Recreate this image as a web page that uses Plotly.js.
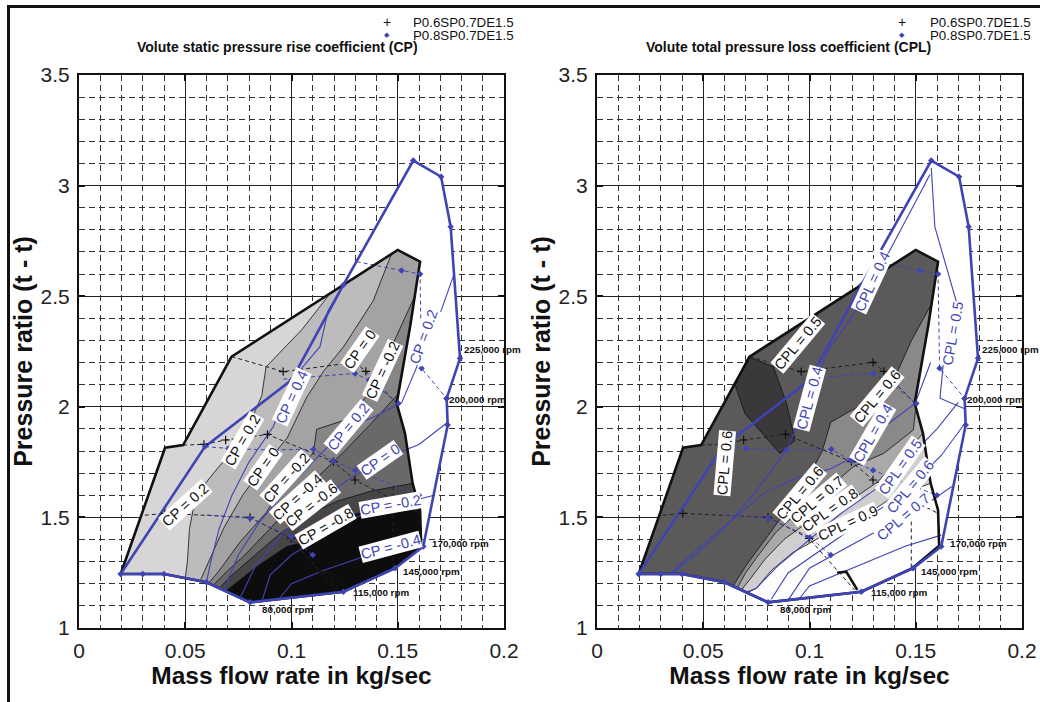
<!DOCTYPE html>
<html><head><meta charset="utf-8">
<script src="https://cdn.plot.ly/plotly-3.0.1.min.js"></script>
<style>
body{margin:0;background:#fff;}
#chart{width:1040px;height:702px;}
#frame{position:absolute;left:7px;top:5px;width:1040px;height:700px;border-left:3px solid #111;border-top:3px solid #111;pointer-events:none;}
</style></head>
<body><div id="chart"></div><div id="frame"></div>
<script>
// ---------------- DATA ----------------
const xRange = [0, 0.2];
const yRange = [1, 3.5];
const seriesNames = ['P0.6SP0.7DE1.5', 'P0.8SP0.7DE1.5'];
const panelTitles = ['Volute static pressure rise coefficient (CP)', 'Volute total pressure loss coefficient (CPL)'];

// operating-map envelopes [mass flow, pressure ratio]
const envP06 = [[0.0196,1.244],[0.030,1.244],[0.040,1.244],[0.060,1.207],[0.0805,1.116],[0.1244,1.164],[0.1487,1.272],[0.161,1.372],[0.1605,1.533],[0.157,1.654],[0.1534,1.880],[0.1495,2.016],[0.1526,2.181],[0.1558,2.362],[0.1605,2.656],[0.150,2.709],[0.0718,2.227],[0.049,1.827],[0.0405,1.815]];
const envP08 = [[0.0196,1.244],[0.030,1.244],[0.040,1.244],[0.060,1.207],[0.0805,1.116],[0.1244,1.164],[0.1487,1.270],[0.162,1.368],[0.1735,1.918],[0.173,2.038],[0.1793,2.219],[0.1749,2.814],[0.1704,3.040],[0.1573,3.113],[0.1244,2.551],[0.100,2.121],[0.0593,1.82]];
const notchP06 = [[0.113,1.250],[0.1173,1.255],[0.1225,1.172]];

// CP contour lines, P0.6 (filled), levels 0.2, 0, -0.2, -0.4, -0.6, -0.8
const cpP06_02  = [[0.118,2.51],[0.105,2.35],[0.088,2.18],[0.086,2.05],[0.077,1.85],[0.065,1.72],[0.055,1.60],[0.052,1.45],[0.051,1.30],[0.050,1.226]];
const cpP06_0   = [[0.147,2.69],[0.1385,2.48],[0.1244,2.27],[0.115,2.16],[0.107,2.04],[0.098,1.86],[0.0867,1.728],[0.077,1.60],[0.068,1.45],[0.062,1.32],[0.057,1.213]];
const cpP06_m02 = [[0.158,2.50],[0.1487,2.306],[0.1416,2.155],[0.1354,2.049],[0.126,1.943],[0.1118,1.898],[0.1103,1.79],[0.0977,1.678],[0.0883,1.524],[0.0758,1.389],[0.066,1.26],[0.061,1.202]];
const cpP06_m04 = [[0.1505,2.06],[0.138,1.93],[0.125,1.80],[0.112,1.68],[0.103,1.59],[0.09,1.45],[0.078,1.33],[0.069,1.25],[0.063,1.192]];
const cpP06_m06 = [[0.157,1.654],[0.138,1.62],[0.122,1.575],[0.1095,1.52],[0.095,1.43],[0.083,1.33],[0.072,1.24],[0.066,1.18]];
const cpP06_m08 = [[0.1605,1.533],[0.1306,1.518],[0.118,1.435],[0.104,1.383],[0.0977,1.368],[0.0836,1.277],[0.0695,1.17]];
const cpBandColors = ['#d7d5d5','#bdbbbb','#a4a2a2','#878585','#6a6868','#474545','#0d0d0d'];

// CP contour lines, P0.8 (lines only)
const cpP08_04  = [[0.1244,2.551],[0.1173,2.437],[0.1134,2.272],[0.100,2.12],[0.0914,1.91],[0.080,1.75],[0.072,1.60],[0.066,1.45],[0.062,1.30],[0.060,1.207]];
const cpP08_02  = [[0.1765,2.60],[0.1691,2.40],[0.162,2.25],[0.1519,2.02],[0.138,1.95],[0.1267,1.91],[0.115,1.80],[0.100,1.65],[0.085,1.48],[0.075,1.33],[0.068,1.17]];
const cpP08_0   = [[0.1735,1.93],[0.160,1.83],[0.1416,1.76],[0.125,1.66],[0.110,1.55],[0.095,1.42],[0.083,1.28],[0.076,1.14]];
const cpP08_m02 = [[0.167,1.60],[0.155,1.57],[0.1464,1.556],[0.130,1.50],[0.115,1.42],[0.100,1.33],[0.090,1.24],[0.086,1.12]];
const cpP08_m04 = [[0.162,1.40],[0.1464,1.368],[0.130,1.31],[0.115,1.26],[0.100,1.20],[0.094,1.13]];

// CPL contour lines, P0.6 (filled)
const cplP06_pocket = [[0.0712,2.227],[0.083,2.181],[0.0892,2.015],[0.0932,1.849],[0.0861,1.789],[0.0696,1.970],[0.0650,2.098]];
const cplP06_05 = [[0.083,2.181],[0.0947,2.287],[0.105,2.432]];
const cplP06_06 = [[0.157,2.458],[0.148,2.30],[0.141,2.15],[0.1316,2.046],[0.120,1.985],[0.110,1.93],[0.106,1.80],[0.0955,1.609],[0.086,1.49],[0.077,1.37],[0.070,1.28],[0.064,1.189]];
const cplP06_07 = [[0.1500,2.0],[0.1489,1.895],[0.135,1.79],[0.1206,1.729],[0.110,1.64],[0.1034,1.579],[0.094,1.52],[0.084,1.43],[0.076,1.33],[0.070,1.25],[0.066,1.181]];
const cplP06_08 = [[0.1534,1.88],[0.145,1.79],[0.132,1.66],[0.120,1.58],[0.1096,1.533],[0.098,1.47],[0.088,1.40],[0.079,1.31],[0.072,1.22],[0.068,1.172]];
const cplP06_09 = [[0.157,1.654],[0.1395,1.594],[0.128,1.52],[0.1183,1.473],[0.105,1.41],[0.092,1.34],[0.082,1.26],[0.075,1.18],[0.071,1.160]];
const cplBaseColor = '#5b5959', cplPocketColor = '#3a3838';
const cplBandColors = ['#8a8888','#aaa8a8','#d0cece','#fdfdfd'];

// CPL contour lines, P0.8 (lines only)
const cplP08_04a = [[0.1567,3.05],[0.1379,2.709],[0.1222,2.438],[0.108,2.242],[0.1002,2.038],[0.0892,1.805],[0.075,1.62],[0.060,1.45],[0.045,1.32],[0.035,1.244]];
const cplP08_05a = [[0.1573,3.08],[0.159,2.813],[0.1693,2.469],[0.163,2.197],[0.1614,2.039],[0.1733,1.99]];
const cplP08_04b = [[0.157,2.20],[0.1497,2.015],[0.138,1.93],[0.130,1.88],[0.120,1.77],[0.110,1.72],[0.095,1.68],[0.080,1.62],[0.065,1.50],[0.050,1.38],[0.035,1.25]];
const cplP08_05b = [[0.170,2.02],[0.160,1.90],[0.1426,1.729],[0.130,1.62],[0.115,1.52],[0.100,1.40],[0.085,1.28],[0.075,1.18],[0.070,1.16]];
const cplP08_06 = [[0.1735,1.93],[0.162,1.78],[0.1473,1.639],[0.135,1.55],[0.120,1.45],[0.105,1.35],[0.090,1.25],[0.082,1.13]];
const cplP08_07 = [[0.167,1.64],[0.155,1.56],[0.1441,1.503],[0.130,1.43],[0.115,1.35],[0.100,1.27],[0.090,1.127]];
const cplP08_08 = [[0.162,1.42],[0.145,1.37],[0.130,1.31],[0.115,1.25],[0.100,1.19],[0.095,1.13]];

// speed lines (dashed) with measured points
const speedP06 = [
  [[0.0718,2.227],[0.0961,2.159],[0.1299,2.201],[0.135,2.16],[0.1495,2.016]],
  [[0.049,1.827],[0.0588,1.83],[0.069,1.85],[0.0887,1.875],[0.1197,1.752],[0.1299,1.669],[0.1605,1.518]],
  [[0.031,1.51],[0.0404,1.518],[0.0805,1.500],[0.0998,1.405],[0.1212,1.172]],
  [[0.1479,1.64],[0.1479,1.27]]
];
const speedP08 = [
  [[0.1307,2.656],[0.1518,2.616],[0.1605,2.600],[0.1612,2.174],[0.173,2.038]],
  [[0.0593,1.82],[0.0703,1.812],[0.0892,1.805],[0.1103,1.808],[0.1197,1.756],[0.1299,1.713],[0.160,1.60]],
  [[0.0601,1.511],[0.0805,1.496],[0.0998,1.413],[0.110,1.33]],
  [[0.0961,2.125],[0.1299,2.151],[0.1365,2.12],[0.1503,2.015]]
];

// speed labels
const rpmText = ['225,000 rpm','200,000 rpm','170,000 rpm','145,000 rpm','115,000 rpm','80,000 rpm'];
const rpmX = [0.1800,0.1732,0.1650,0.1515,0.1280,0.0850];
const rpmY = [2.257,2.031,1.380,1.255,1.160,1.085];

// contour labels [text, x, y, angle]
const cpLabelsP06 = [['CP = 0.2',0.077,1.85,-60],['CP = 0.2',0.050,1.556,-42],['CP = 0',0.132,2.257,-55],['CP = -0.2',0.143,2.166,-65],
  ['CP = 0',0.0867,1.728,-55],['CP = -0.2',0.0977,1.678,-48],['CP = -0.4',0.103,1.592,-42],['CP = -0.6',0.1095,1.556,-38],['CP = -0.8',0.1158,1.458,-30]];
const cpLabelsP08 = [['CP = 0.4',0.100,2.046,-65],['CP = 0.2',0.162,2.317,-70],['CP = 0.2',0.1267,1.91,-50],['CP = 0',0.1416,1.76,-35],
  ['CP = -0.2',0.1464,1.556,-10],['CP = -0.4',0.1464,1.368,-15]];
const cplLabelsP06 = [['CPL = 0.5',0.0947,2.287,-50],['CPL = 0.6',0.1316,2.046,-50],['CPL = 0.6',0.0602,1.745,-85],['CPL = 0.6',0.0955,1.609,-50],
  ['CPL = 0.7',0.1034,1.579,-40],['CPL = 0.8',0.1096,1.533,-35],['CPL = 0.9',0.1183,1.473,-25]];
const cplLabelsP08 = [['CPL = 0.4',0.1293,2.566,-65],['CPL = 0.5',0.1677,2.332,-80],['CPL = 0.4',0.1002,2.038,-75],['CPL = 0.4',0.130,1.88,-60],
  ['CPL = 0.5',0.1426,1.729,-55],['CPL = 0.6',0.1473,1.639,-50],['CPL = 0.7',0.1441,1.503,-40]];

// ---------------- HELPERS ----------------
const F = 'Arial, "Liberation Sans", sans-serif';
const BLUE = '#3f44b4';
const SX = 2125/221.2;
function distSeg(p,a,b){
  const ax=a[0]*SX, ay=a[1], bx=b[0]*SX, by=b[1], px=p[0]*SX, py=p[1];
  const dx=bx-ax, dy=by-ay; let t=((px-ax)*dx+(py-ay)*dy)/((dx*dx+dy*dy)||1);
  t=Math.max(0,Math.min(1,t));
  return Math.hypot(ax+t*dx-px, ay+t*dy-py);
}
function segOf(env,p){ let best=0,bd=Infinity; for(let i=0;i<env.length;i++){ const d=distSeg(p,env[i],env[(i+1)%env.length]); if(d<bd){bd=d;best=i;} } return best; }
function regionBelow(line, env){
  const n=env.length, s=segOf(env,line[0]), e=segOf(env,line[line.length-1]);
  const pts=line.slice(); let i=(e+1)%n;
  for(let k=0;k<n;k++){ pts.push(env[i]); if(i===s) break; i=(i+1)%n; }
  return pts;
}
const closeP = pts => pts.concat([pts[0]]);
function tr(pts, ax, o){
  return Object.assign({type:'scatter', mode:'lines', x:pts.map(p=>p[0]), y:pts.map(p=>p[1]),
    xaxis:'x'+ax, yaxis:'y'+ax, hoverinfo:'skip', showlegend:false}, o);
}
const fillT = (pts, ax, col) => tr(closeP(pts), ax, {fill:'toself', fillcolor:col, line:{color:'#111', width:0.8}});
const lineT = (pts, ax, col, w, dash) => tr(pts, ax, {line:{color:col, width:w, dash:dash||'solid'}});

function panelTraces(ax, filled){
  const T = [];
  T.push(tr(closeP(envP08), ax, {fill:'toself', fillcolor:'#ffffff', line:{width:0}}));
  filled.forEach(f => T.push(fillT(f.pts, ax, f.col)));
  return T;
}
function overlayTraces(ax, blueLines, extraBlack){
  const T = [];
  speedP06.forEach(s => T.push(lineT(s, ax, '#222', 1, '4px,3px')));
  speedP08.forEach(s => T.push(lineT(s, ax, BLUE, 1, '4px,3px')));
  (extraBlack||[]).forEach(l => T.push(lineT(l, ax, '#111', 0.8)));
  blueLines.forEach(l => T.push(lineT(l, ax, BLUE, 1.1)));
  T.push(lineT(closeP(envP06), ax, '#111', 2.6));
  T.push(lineT(notchP06, ax, '#111', 2.6));
  T.push(lineT(closeP(envP08), ax, BLUE, 2.6));
  const pP06 = [].concat(...speedP06.map(s=>s.slice(1,-1)));
  const pP08 = [].concat(...speedP08.map(s=>s.slice(1))).concat(envP08);
  T.push(tr(pP06, ax, {mode:'markers', marker:{symbol:'cross-thin-open', size:6, color:'#111', line:{color:'#111', width:1.2}}}));
  T.push(tr(pP08, ax, {mode:'markers', marker:{symbol:'diamond', size:5, color:BLUE}}));
  return T;
}

// ---------------- TRACES ----------------
const cpLines = [cpP06_02, cpP06_0, cpP06_m02, cpP06_m04, cpP06_m06, cpP06_m08];
const cpFilled = [{pts:envP06, col:cpBandColors[0]}].concat(cpLines.map((l,i)=>({pts:regionBelow(l, envP06), col:cpBandColors[i+1]})));
let traces = panelTraces('', cpFilled).concat(overlayTraces('', [cpP08_04, cpP08_02, cpP08_0, cpP08_m02, cpP08_m04]));

const cplLines = [cplP06_06, cplP06_07, cplP06_08, cplP06_09];
const cplFilled = [{pts:envP06, col:cplBaseColor}, {pts:cplP06_pocket, col:cplPocketColor}]
  .concat(cplLines.map((l,i)=>({pts:regionBelow(l, envP06), col:cplBandColors[i]})));
traces = traces.concat(panelTraces('2', cplFilled)).concat(overlayTraces('2', [cplP08_04a, cplP08_05a, cplP08_04b, cplP08_05b, cplP08_06, cplP08_07, cplP08_08], [cplP06_05]));

// ---------------- LAYOUT ----------------
function axis(extra){
  return Object.assign({showline:true, mirror:'ticks', linecolor:'#111', linewidth:2, ticks:'inside', ticklen:6, tickwidth:2, tickcolor:'#111',
    showgrid:true, gridcolor:'#222', gridwidth:1, zeroline:false, fixedrange:true, ticklabelstandoff:3,
    tickfont:{family:F, size:21, color:'#222'}}, extra);
}
const yDom = [74/702, 627/702];
const xDom1 = [79/1040, 504/1040], xDom2 = [597/1040, 1022/1040];
const xt = {text:'<b>Mass flow rate in kg/sec</b>', font:{family:F, size:24.5, color:'#111'}, standoff:6};
const yt = {text:'<b>Pressure ratio (t - t)</b>', font:{family:F, size:25, color:'#111'}, standoff:1};
const minorX = {dtick:0.01, showgrid:true, gridcolor:'#333', gridwidth:1, griddash:'6px,4px'};
const minorY = {dtick:0.1, showgrid:true, gridcolor:'#333', gridwidth:1, griddash:'6px,4px'};

const annotations = [];
function labels(list, ax, col){
  list.forEach(l => annotations.push({xref:'x'+ax, yref:'y'+ax, x:l[1], y:l[2], text:l[0], textangle:l[3], showarrow:false,
    bgcolor:'#ffffff', borderpad:0, font:{family:F, size:14.5, color:col}}));
}
labels(cpLabelsP06, '', '#111'); labels(cpLabelsP08, '', BLUE);
labels(cplLabelsP06, '2', '#111'); labels(cplLabelsP08, '2', BLUE);
['', '2'].forEach((ax, k) => {
  rpmText.forEach((t,i) => annotations.push({xref:'x'+ax, yref:'y'+ax, x:rpmX[i], y:rpmY[i], text:'<b>'+t+'</b>', showarrow:false,
    xanchor:'left', yanchor:'middle', font:{family:F, size:9.8, color:'#111'}}));
  const cx = k===0 ? 277 : 788;
  annotations.push({xref:'paper', yref:'paper', x:cx/1040, y:1-47/702, text:'<b>'+panelTitles[k]+'</b>', showarrow:false,
    xanchor:'center', yanchor:'middle', font:{family:F, size:14, color:'#111'}});
  const lx = k===0 ? 387 : 902, tx = k===0 ? 411 : 928;
  annotations.push({xref:'paper', yref:'paper', x:lx/1040, y:1-22/702, text:'+', showarrow:false, xanchor:'center', yanchor:'middle', font:{family:F, size:14, color:'#111'}});
  annotations.push({xref:'paper', yref:'paper', x:lx/1040, y:1-35/702, text:'◆', showarrow:false, xanchor:'center', yanchor:'middle', font:{family:'DejaVu Sans', size:7, color:BLUE}});
  annotations.push({xref:'paper', yref:'paper', x:tx/1040, y:1-22/702, text:seriesNames[0], showarrow:false, xanchor:'left', yanchor:'middle', font:{family:F, size:13.3, color:'#111'}});
  annotations.push({xref:'paper', yref:'paper', x:tx/1040, y:1-35/702, text:seriesNames[1], showarrow:false, xanchor:'left', yanchor:'middle', font:{family:F, size:13.3, color:'#111'}});
});

const layout = {
  width:1040, height:702, margin:{l:0, r:0, t:0, b:0}, paper_bgcolor:'#fff', plot_bgcolor:'#fff', showlegend:false,
  xaxis: axis({domain:xDom1, range:xRange, dtick:0.05, tick0:0, anchor:'y', minor:minorX, title:xt}),
  yaxis: axis({domain:yDom, range:yRange, dtick:0.5, tick0:1, anchor:'x', minor:minorY, title:yt}),
  xaxis2: axis({domain:xDom2, range:xRange, dtick:0.05, tick0:0, anchor:'y2', minor:minorX, title:xt}),
  yaxis2: axis({domain:yDom, range:yRange, dtick:0.5, tick0:1, anchor:'x2', minor:minorY, title:yt}),
  annotations: annotations
};
Plotly.newPlot('chart', traces, layout, {staticPlot:true, displayModeBar:false});
</script></body></html>
